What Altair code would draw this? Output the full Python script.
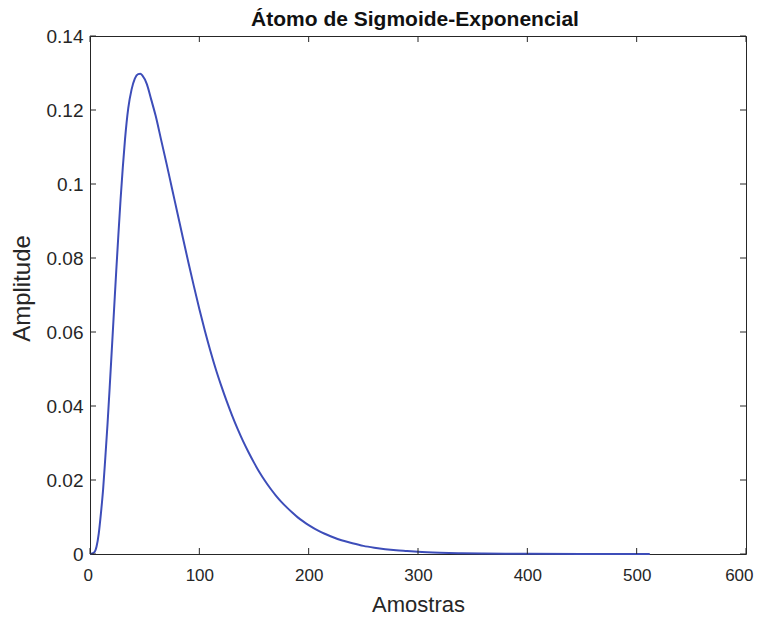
import altair as alt
import pandas as pd

# Samples (x) and amplitude (y)
samples = [0, 4, 6, 8, 10, 12, 14, 16, 18, 20, 22, 24, 26, 28, 30, 32, 35, 38, 41,
           44, 46, 48, 52, 56, 60, 65, 70, 75, 80, 85, 90, 95, 100, 105, 110, 115,
           120, 125, 130, 135, 140, 145, 150, 155, 160, 165, 170, 175, 180, 185,
           190, 195, 200, 210, 220, 230, 240, 250, 260, 270, 280, 290, 300, 320,
           340, 360, 380, 400, 450, 512]
amplitude = [0.0, 0.0005, 0.002, 0.0055, 0.011, 0.0175, 0.026, 0.035, 0.045,
             0.0555, 0.066, 0.0765, 0.0865, 0.096, 0.1045, 0.112, 0.1205, 0.1255,
             0.1285, 0.1297, 0.1298, 0.1293, 0.127, 0.1228, 0.1185, 0.112, 0.1055,
             0.0988, 0.0921, 0.0854, 0.0788, 0.0724, 0.0662, 0.0604, 0.055, 0.05,
             0.0455, 0.0413, 0.0374, 0.0338, 0.0305, 0.0275, 0.0247, 0.0221, 0.0198,
             0.0177, 0.0158, 0.0141, 0.0126, 0.0112, 0.0099, 0.0088, 0.0078, 0.0061,
             0.0048, 0.0037, 0.0029, 0.0022, 0.0017, 0.0013, 0.001, 0.0008, 0.0006,
             0.00035, 0.0002, 0.00012, 0.00007, 0.00004, 0.00001, 0.000001]

x_ticks = [0, 100, 200, 300, 400, 500, 600]
y_ticks = [0, 0.02, 0.04, 0.06, 0.08, 0.1, 0.12, 0.14]

title_text = "Átomo de Sigmoide-Exponencial"
x_title = "Amostras"
y_title = "Amplitude"

W, H = 656, 518
AX = "#262626"
TICK = 6

df = pd.DataFrame({"Amostras": samples, "Amplitude": amplitude})
xt = pd.DataFrame({"Amostras": x_ticks})
yt = pd.DataFrame({"Amplitude": y_ticks})
tt = pd.DataFrame({"label": [title_text]})

x_scale = alt.Scale(domain=[0, 600], nice=False, zero=False)
y_scale = alt.Scale(domain=[0, 0.14], nice=False, zero=False)

x_axis = alt.Axis(values=x_ticks, format="d", title=x_title, grid=False,
                  ticks=False, tickSize=0, domain=False, labelFontSize=17,
                  labelPadding=13, labelColor=AX, titleColor=AX,
                  labelFlush=True, labelFlushOffset=7,
                  titleFontSize=22, titleFontWeight="normal",
                  titleX=W / 2, titleY=57, titleBaseline="alphabetic")
y_axis = alt.Axis(values=y_ticks, format=".2~f", title=y_title, grid=False,
                  ticks=False, tickSize=0, domain=False, labelFontSize=19,
                  labelPadding=7, labelColor=AX, titleColor=AX, labelFlush=False,
                  titleFontSize=24, titleFontWeight="normal",
                  titleX=-56, titleY=252)

line = alt.Chart(df).mark_line(color="#3D4DB9", strokeWidth=2, interpolate="monotone").encode(
    x=alt.X("Amostras:Q", scale=x_scale, axis=x_axis),
    y=alt.Y("Amplitude:Q", scale=y_scale, axis=y_axis),
)

tick_bottom = alt.Chart(xt).mark_rule(color=AX, strokeWidth=1).encode(
    x=alt.X("Amostras:Q", scale=x_scale, axis=x_axis), y=alt.value(H), y2=alt.value(H - TICK))
tick_top = alt.Chart(xt).mark_rule(color=AX, strokeWidth=1).encode(
    x=alt.X("Amostras:Q", scale=x_scale, axis=x_axis), y=alt.value(0), y2=alt.value(TICK))
tick_left = alt.Chart(yt).mark_rule(color=AX, strokeWidth=1).encode(
    y=alt.Y("Amplitude:Q", scale=y_scale, axis=y_axis), x=alt.value(0), x2=alt.value(TICK))
tick_right = alt.Chart(yt).mark_rule(color=AX, strokeWidth=1).encode(
    y=alt.Y("Amplitude:Q", scale=y_scale, axis=y_axis), x=alt.value(W), x2=alt.value(W - TICK))

title_mark = alt.Chart(tt).mark_text(
    fontSize=21, fontWeight="bold", color="#111111", align="center",
    baseline="alphabetic").encode(text="label:N", x=alt.value(W / 2 - 3), y=alt.value(-10))

chart = alt.layer(line, tick_bottom, tick_top, tick_left, tick_right, title_mark).properties(
    width=W, height=H,
    autosize=alt.AutoSizeParams(type="none"),
    padding={"left": 82, "top": 28, "right": 9, "bottom": 62},
).configure(font="Liberation Sans").configure_view(stroke=AX, strokeWidth=1)

chart.save("out.html", embed_options={"renderer": "svg", "actions": False})
